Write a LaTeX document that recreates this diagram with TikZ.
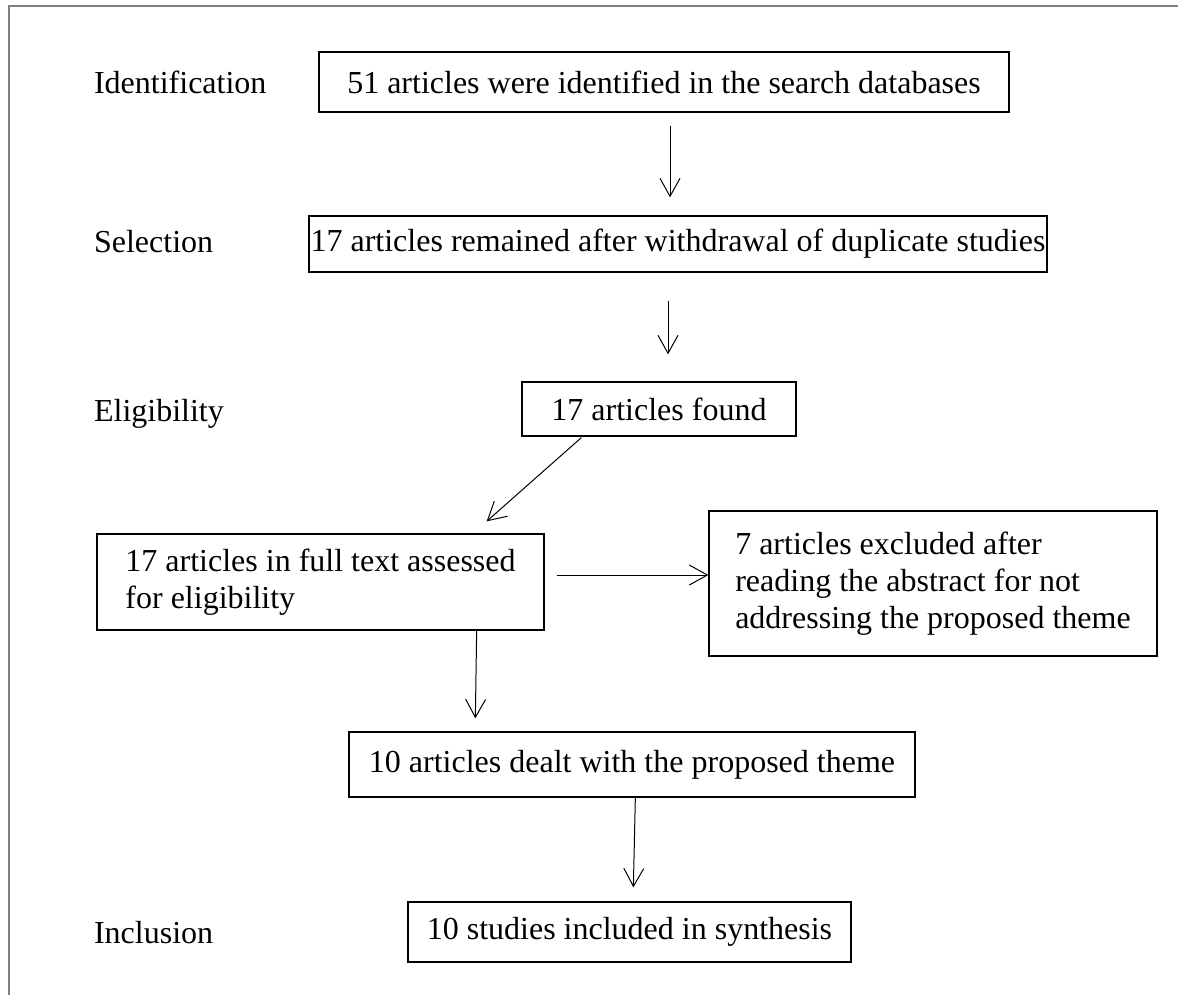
\documentclass[tikz,border=0pt]{standalone}
\usepackage{fontspec}
\setmainfont{Liberation Serif}
\usetikzlibrary{arrows.meta}

\begin{document}
\begin{tikzpicture}[x=0.5pt,y=-0.5pt,
    box/.style={draw, line width=0.65pt, inner sep=0pt, font=\fontsize{16}{18.4}\selectfont},
    lbl/.style={anchor=base west, font=\fontsize{16}{18.4}\selectfont},
    arr/.style={-{Straight Barb[length=9pt,width=10pt]}, line width=0.5pt}]

    \useasboundingbox (0,0) rectangle (1178,995);

    % frame
    \draw[gray, line width=0.6pt] (9,995) -- (9,6) -- (1178,6);

    % stage names
    \node[lbl] (identlbl) at (87,94) {Identification};
    \node[lbl] (selectlbl) at (87,252) {Selection};
    \node[lbl] (eliglbl) at (87,421) {Eligibility};
    \node[lbl] (incllbl) at (87,943) {Inclusion};

    % boxes
    \node[box, minimum width=345pt, minimum height=30pt] (ident) at (664,82) {51 articles were identified in the search databases};
    \node[box, minimum width=369pt, minimum height=28pt] (select) at (678,244) {17 articles remained after withdrawal of duplicate studies};
    \node[box, minimum width=137pt, minimum height=27pt] (found) at (659,409) {17 articles found};
    \node[box, minimum width=223.5pt, minimum height=48pt, align=left] (full) at (320.5,582) {17 articles in full text assessed\\for eligibility};
    \node[box, minimum width=224pt, minimum height=72.5pt, align=left] (excl) at (933,583.5) {7 articles excluded after\\reading the abstract for not\\addressing the proposed theme};
    \node[box, minimum width=283pt, minimum height=32.5pt] (dealt) at (632,764.5) {10 articles dealt with the proposed theme};
    \node[box, minimum width=221.5pt, minimum height=30pt] (incl) at (629.5,932) {10 studies included in synthesis};

    % arrows
    \draw[arr] ([shift={(6,13)}]ident.south) -- ([shift={(-8,-18)}]select.north);
    \draw[arr] ([shift={(-10,28)}]select.south) -- ([shift={(9,-27)}]found.north);
    \draw[arr] ([shift={(60,1)}]found.south west) -- ([shift={(-58,-12)}]full.north east);
    \draw[arr] ([shift={(12,-7)}]full.east) -- ([shift={(0,-8.5)}]excl.west);
    \draw[arr] ([shift={(-68,0)}]full.south east) -- ([shift={(127,-13)}]dealt.north west);
    \draw[arr] ([shift={(287,0)}]dealt.south west) -- ([shift={(226,-14)}]incl.north west);

\end{tikzpicture}
\end{document}
